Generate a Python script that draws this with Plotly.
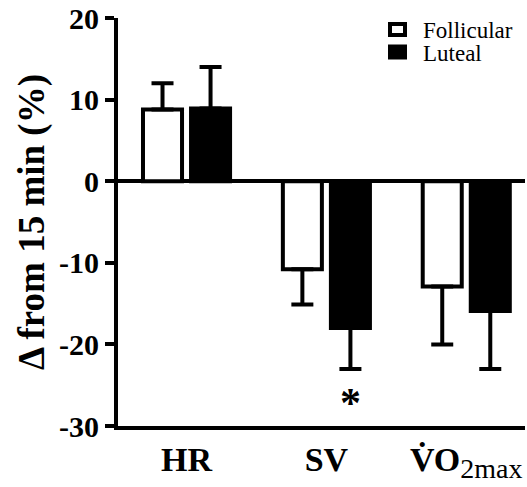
import plotly.graph_objects as go

categories = ["HR", "SV", "VO2max"]
tick_labels = ["<b>HR</b>", "<b>SV</b>",
               "<b>V\u0307O</b><sub><span style=\"font-size:28px\">2max</span></sub>"]
series_names = ["Follicular", "Luteal"]
follicular = [8.8, -10.8, -12.9]
follicular_err = [3.2, 4.3, 7.1]
luteal = [8.9, -18.0, -15.9]
luteal_err = [5.1, 5.0, 7.1]
y_ticks = [-30, -20, -10, 0, 10, 20]

FONT = "Liberation Serif, Times New Roman, serif"
W, H = 527, 487
ML, MR, MT, MB = 118, 2, 18, 61


def err_dict(vals, errs):
    up = [e if v >= 0 else 0 for v, e in zip(vals, errs)]
    down = [e if v < 0 else 0 for v, e in zip(vals, errs)]
    return dict(type="data", symmetric=False, array=up, arrayminus=down,
                color="black", thickness=4, width=11)


x = list(range(len(categories)))
fills = ["white", "black"]
fig = go.Figure()
for name, vals, errs, fill in zip(series_names, [follicular, luteal],
                                  [follicular_err, luteal_err], fills):
    fig.add_trace(go.Bar(x=x, y=vals, name=name, showlegend=False,
                         marker=dict(color=fill, line=dict(color="black", width=4)),
                         error_y=err_dict(vals, errs)))

fig.add_annotation(x=1, y=-27.2, xref="x", yref="y", xshift=24, text="<b>*</b>",
                   showarrow=False, font=dict(family=FONT, size=42, color="black"))


# manual legend (pixel positions converted to paper coords)
def px(xp):
    return (xp - ML) / (W - ML - MR)


def py(yp):
    return 1 - (yp - MT) / (H - MT - MB)


for i, (name, fill) in enumerate(zip(series_names, fills)):
    yc = 29.5 + 22.5 * i
    fig.add_shape(type="rect", xref="paper", yref="paper",
                  x0=px(390), x1=px(405), y0=py(yc - 5.5), y1=py(yc + 5.5),
                  fillcolor=fill, line=dict(color="black", width=4))
    fig.add_annotation(xref="paper", yref="paper", x=px(421), y=py(yc + 1),
                       xanchor="left", yanchor="middle", text=name, showarrow=False,
                       font=dict(family=FONT, size=23, color="black"))

fig.update_layout(
    width=W, height=H,
    margin=dict(l=ML, r=MR, t=MT, b=MB),
    paper_bgcolor="white", plot_bgcolor="white",
    barmode="group", bargap=0.313, bargroupgap=0.1875,
    font=dict(family=FONT, color="black"),
    showlegend=False,
)
fig.update_xaxes(
    tickmode="array", tickvals=x, ticktext=tick_labels,
    range=[-0.49, 2.42], showline=True, linecolor="black", linewidth=4,
    ticks="", showgrid=False, zeroline=False,
    tickfont=dict(family=FONT, size=34, color="black"),
)
fig.update_yaxes(
    range=[-30, 20], tickmode="array", tickvals=y_ticks,
    ticktext=[f"<b>{v}</b>" for v in y_ticks],
    showline=True, linecolor="black", linewidth=4,
    ticks="outside", ticklen=9, tickwidth=4, tickcolor="black",
    showgrid=False, zeroline=True, zerolinecolor="black", zerolinewidth=4,
    tickfont=dict(family=FONT, size=30, color="black"),
    title=dict(text="<b>\u0394 from 15 min (%)</b>",
               font=dict(family=FONT, size=37, color="black"), standoff=4),
)

fig.write_html("out.html")
